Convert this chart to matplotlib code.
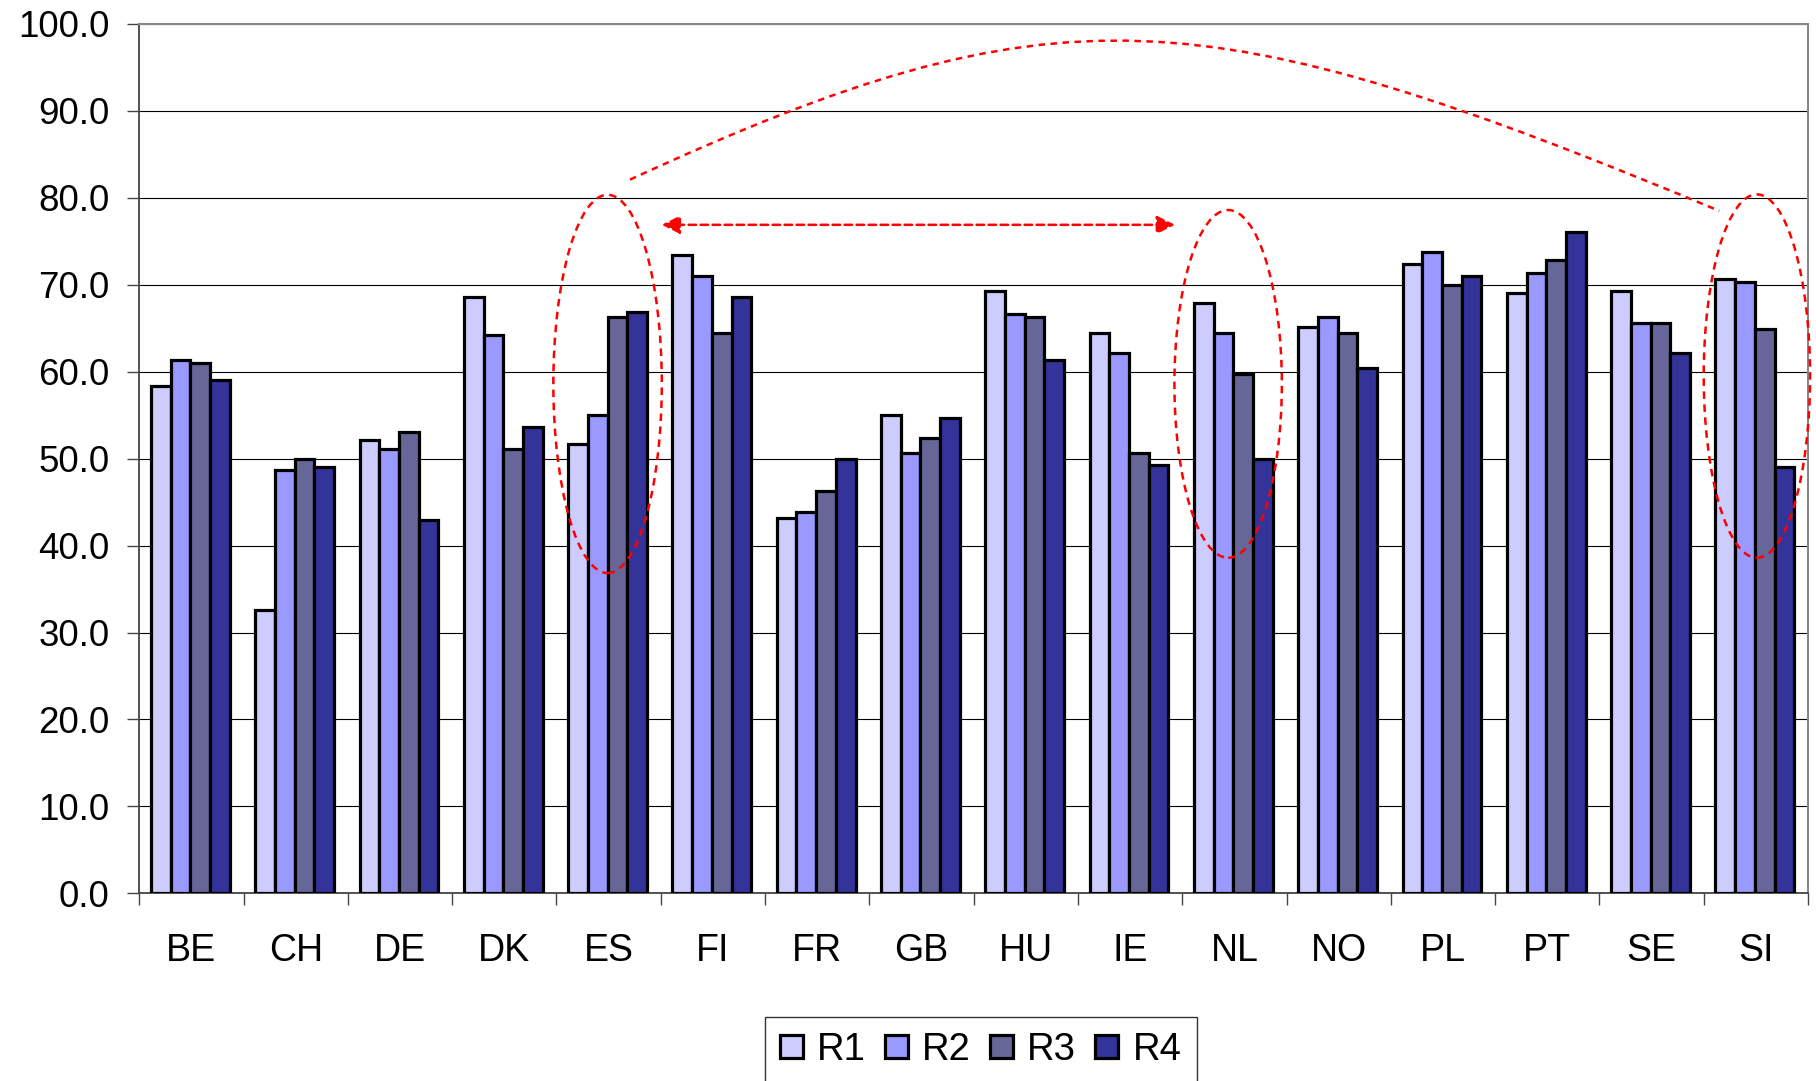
import matplotlib
matplotlib.use("Agg")
import matplotlib.pyplot as plt
import numpy as np
from matplotlib.patches import Ellipse, FancyArrowPatch, PathPatch
from matplotlib.path import Path
from matplotlib.ticker import FixedLocator, FormatStrFormatter

plt.rcParams['font.family'] = ['Liberation Sans', 'DejaVu Sans']

# Data
countries = ["BE", "CH", "DE", "DK", "ES", "FI", "FR", "GB",
             "HU", "IE", "NL", "NO", "PL", "PT", "SE", "SI"]
r1 = [58.4, 32.6, 52.1, 68.6, 51.7, 73.4, 43.2, 55.0,
      69.3, 64.5, 67.9, 65.2, 72.4, 69.0, 69.3, 70.7]
r2 = [61.4, 48.7, 51.1, 64.2, 55.0, 71.0, 43.9, 50.7,
      66.6, 62.2, 64.5, 66.3, 73.8, 71.4, 65.6, 70.3]
r3 = [61.0, 50.0, 53.1, 51.1, 66.3, 64.5, 46.3, 52.4,
      66.3, 50.7, 59.7, 64.5, 70.0, 72.8, 65.6, 64.9]
r4 = [59.0, 49.0, 42.9, 53.7, 66.9, 68.6, 50.0, 54.7,
      61.4, 49.3, 50.0, 60.4, 71.0, 76.1, 62.1, 49.0]
series_names = ["R1", "R2", "R3", "R4"]
series_colors = ["#CCCCFF", "#9999FF", "#666699", "#333399"]
y_ticks = [0, 10, 20, 30, 40, 50, 60, 70, 80, 90, 100]

# Highlight shapes (data coordinates)
ellipses = [  # (x centre, y centre, width, height)
    (3.99, 58.6, 1.04, 43.5),
    (9.94, 58.6, 1.03, 40.0),
    (15.01, 59.5, 1.02, 41.8),
]
arc_points = [(4.205, 82.1), (8.3, 104.7), (9.7, 103.2), (14.65, 78.5)]
arrow_span = ((4.51, 76.9), (9.43, 76.9))

fig = plt.figure(figsize=(18.16, 10.81), dpi=100)
ax = fig.add_axes([0.0767, 0.1736, 0.9189, 0.8042])

x = np.arange(len(countries))
bw = 0.189
for i, (vals, name, col) in enumerate(zip([r1, r2, r3, r4], series_names, series_colors)):
    ax.bar(x + (i - 1.5) * bw - 0.01, vals, width=bw, color=col,
           edgecolor='black', linewidth=2.3, label=name, zorder=3)

ax.set_xlim(-0.5, len(countries) - 0.5)
ax.set_ylim(0, 100)

# Grid and frame
ax.yaxis.grid(True, color='black', linewidth=0.8, zorder=0)
ax.set_axisbelow(True)
for side in ['top', 'right']:
    ax.spines[side].set_color('#888888')
    ax.spines[side].set_linewidth(1.5)
for side in ['left', 'bottom']:
    ax.spines[side].set_color('#444444')
    ax.spines[side].set_linewidth(1.3)

# Y axis
ax.yaxis.set_major_locator(FixedLocator(y_ticks))
ax.yaxis.set_major_formatter(FormatStrFormatter('%.1f'))
ax.tick_params(axis='y', which='major', length=8.6, width=1.0, color='#444444',
               pad=13, labelsize=26.5, direction='out')

# X axis: labels at centres, tick marks at category boundaries
ax.set_xticks(x)
ax.set_xticklabels(countries)
ax.xaxis.set_minor_locator(FixedLocator(np.arange(len(countries) + 1) - 0.5))
ax.tick_params(axis='x', which='major', length=0, pad=28.5, labelsize=27)
ax.tick_params(axis='x', which='minor', length=8.6, width=1.0, color='#444444',
               direction='out')

# Red dashed highlights
dash = (0, (3.0, 2.2))
for cx, cy, w, h in ellipses:
    ax.add_patch(Ellipse((cx, cy), w, h, fill=False, edgecolor='red',
                         linewidth=1.8, linestyle=dash, zorder=5, clip_on=False))

arc = Path(arc_points, [Path.MOVETO, Path.CURVE4, Path.CURVE4, Path.CURVE4])
ax.add_patch(PathPatch(arc, fill=False, edgecolor='red', linewidth=1.8,
                       linestyle=(0, (2.6, 2.2)), zorder=5, clip_on=False))

ax.add_patch(FancyArrowPatch(arrow_span[0], arrow_span[1],
                             arrowstyle='<|-|>,head_length=1.0,head_width=0.5',
                             mutation_scale=11, color='red', linewidth=1.8,
                             linestyle=(0, (3.0, 1.8)), shrinkA=0, shrinkB=0,
                             zorder=5))

# Legend
leg = fig.legend(loc='upper left', bbox_to_anchor=(765 / 1816, 1 - 1017 / 1081),
                 ncol=4, frameon=True, fancybox=False, edgecolor='black',
                 fontsize=27.5, handlelength=0.6, handleheight=0.56,
                 handletextpad=0.37, columnspacing=0.5, borderaxespad=0,
                 borderpad=0.4)
leg.get_frame().set_linewidth(1.0)

fig.savefig('out.png', dpi=100)
